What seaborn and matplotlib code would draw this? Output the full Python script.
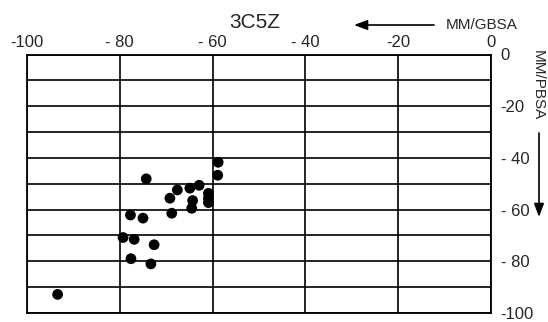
import numpy as np
import pandas as pd
import matplotlib
matplotlib.use('Agg')
import matplotlib.pyplot as plt
import seaborn as sns

# 数据
gbsa = [-58.8, -58.9, -74.3, -62.9, -64.9, -67.6, -60.9, -69.2, -64.3, -60.9, -60.9,
        -64.5, -77.7, -68.8, -75.0, -79.3, -76.9, -72.6, -77.6, -73.3, -93.4]
pbsa = [-41.7, -46.7, -48.1, -50.6, -51.7, -52.4, -53.7, -55.6, -56.5, -55.6, -57.3,
        -59.5, -62.1, -61.4, -63.3, -70.8, -71.5, -73.6, -79.0, -81.0, -92.8]
x_ticks = [-100, -80, -60, -40, -20, 0]
x_labels = ['-100', '- 80', '- 60', '- 40', '-20', '0']
y_ticks = [0, -20, -40, -60, -80, -100]
y_labels = ['0', '-20', '- 40', '- 60', '- 80', '-100']
title = '3C5Z'

df = pd.DataFrame({'MM/GBSA': gbsa, 'MM/PBSA': pbsa})

sns.set_style('white')
plt.rcParams['font.family'] = ['Liberation Sans', 'DejaVu Sans']

fig = plt.figure(figsize=(5.48, 3.22), dpi=100)
ax = fig.add_axes([27 / 548, 9 / 322, 464 / 548, 258.5 / 322])

# 网格
for v in range(-100, 1, 20):
    ax.axvline(v, color='black', lw=1.2, zorder=1)
for v in range(-100, 1, 10):
    ax.axhline(v, color='black', lw=1.2, zorder=1)

sns.scatterplot(data=df, x='MM/GBSA', y='MM/PBSA', ax=ax, color='black',
                s=60, edgecolor='none', zorder=3)

ax.set_xlim(-100, 0)
ax.set_ylim(-100, 0)
ax.set_xlabel('')
ax.set_ylabel('')
ax.xaxis.tick_top()
ax.yaxis.tick_right()
ax.set_xticks(x_ticks)
ax.set_xticklabels(x_labels, fontsize=12)
ax.set_yticks(y_ticks)
ax.set_yticklabels(y_labels, fontsize=12)
ax.tick_params(axis='both', length=0)
ax.tick_params(axis='x', pad=3)
ax.tick_params(axis='y', pad=7)
for s in ax.spines.values():
    s.set_color('black')
    s.set_linewidth(1.3)

# 标题与坐标说明
fig.text(255 / 548, 1 - 22 / 322, title, ha='center', va='center', fontsize=15)
fig.text(446 / 548, 1 - 25 / 322, 'MM/GBSA', ha='left', va='center', fontsize=11)
fig.add_artist(matplotlib.patches.FancyArrowPatch(
    (434 / 548, 1 - 25 / 322), (354 / 548, 1 - 25 / 322), transform=fig.transFigure,
    arrowstyle='-|>,head_length=8,head_width=3', color='black', lw=1.2,
    shrinkA=0, shrinkB=0))
fig.text(538 / 548, 1 - 85 / 322, 'MM/PBSA', ha='center', va='center',
         fontsize=11, rotation=270)
fig.add_artist(matplotlib.patches.FancyArrowPatch(
    (539 / 548, 1 - 133 / 322), (539 / 548, 1 - 217 / 322), transform=fig.transFigure,
    arrowstyle='-|>,head_length=8,head_width=3', color='black', lw=1.2,
    shrinkA=0, shrinkB=0))

plt.savefig('out.png', dpi=100)
